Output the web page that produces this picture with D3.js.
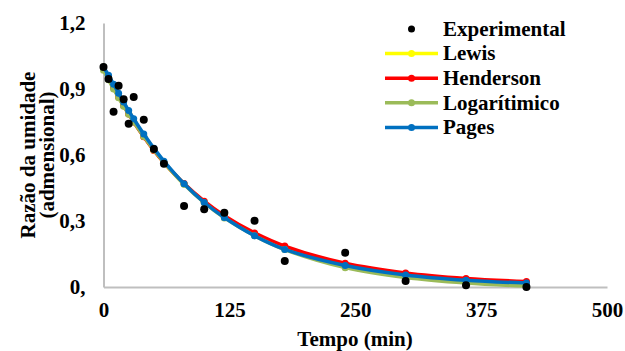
<!DOCTYPE html>
<html>
<head>
<meta charset="utf-8">
<script src="https://cdn.jsdelivr.net/npm/d3@7"></script>
</head>
<body style="margin:0">
<svg id="chart" width="625" height="351" font-family="Liberation Serif" font-weight="bold" font-size="21"></svg>
<script>
/* Chart data */
var tempo        = [0, 5, 10, 15, 20, 25, 30, 40, 50, 60, 80, 100, 120, 150, 180, 240, 300, 360, 420];
var experimental = [1.000, 0.945, 0.797, 0.915, 0.853, 0.742, 0.864, 0.760, 0.627, 0.560, 0.368, 0.353, 0.338, 0.301, 0.118, 0.156, 0.027, 0.008, 0.000];
var lewis        = [1.000, 0.953, 0.909, 0.867, 0.827, 0.789, 0.752, 0.684, 0.622, 0.566, 0.468, 0.387, 0.320, 0.241, 0.181, 0.102, 0.058, 0.033, 0.019];
var henderson    = [0.995, 0.950, 0.906, 0.864, 0.824, 0.786, 0.750, 0.683, 0.621, 0.566, 0.470, 0.390, 0.324, 0.246, 0.186, 0.108, 0.064, 0.039, 0.025];
var logaritmico  = [0.985, 0.942, 0.900, 0.860, 0.822, 0.785, 0.750, 0.684, 0.623, 0.567, 0.467, 0.383, 0.314, 0.233, 0.170, 0.088, 0.043, 0.018, 0.004];
var pages        = [1.000, 0.962, 0.922, 0.881, 0.841, 0.802, 0.765, 0.695, 0.631, 0.572, 0.469, 0.384, 0.316, 0.233, 0.171, 0.098, 0.055, 0.031, 0.018];

var xTicks      = [0, 125, 250, 375, 500];
var yTicks      = [0, 0.3, 0.6, 0.9, 1.2];
var yTickLabels = ["0,", "0,3", "0,6", "0,9", "1,2"];

var seriesNames  = ["Lewis", "Henderson", "Logarítimico", "Pages"];
var seriesValues = [lewis, henderson, logaritmico, pages];
var seriesColors = ["#FFFF00", "#FF0000", "#9BBB59", "#0070C0"];

// Dimensions & Geometry
var plot = {left: 103.5, right: 607, top: 23, bottom: 287};

var svg = d3.select("#chart");

var x = d3.scaleLinear().domain([0, 500]).range([plot.left, plot.right]);
var y = d3.scaleLinear().domain([0, 1.2]).range([plot.bottom, plot.top]);

// Axes
var xAxis = svg.append("g")
    .attr("transform", "translate(0," + plot.bottom + ")")
    .call(d3.axisBottom(x).tickValues(xTicks).tickSize(0).tickPadding(15));

var yAxis = svg.append("g")
    .attr("transform", "translate(" + plot.left + ",0)")
    .call(d3.axisLeft(y).tickValues(yTicks).tickSize(0).tickPadding(18)
        .tickFormat(function (d, i) { return yTickLabels[i]; }));

[xAxis, yAxis].forEach(function (g) {
    // drop the axis' own sans-serif / 10px defaults so the svg settings apply
    g.attr("font-family", null).attr("font-size", null);
    g.select(".domain").attr("stroke", "#BFBFBF").attr("stroke-width", 2);
    g.selectAll("text").attr("fill", "#000");
});

// Axis titles
svg.append("text")
    .attr("x", 355)
    .attr("y", 346)
    .attr("text-anchor", "middle")
    .text("Tempo (min)");

var yTitle = svg.append("text")
    .attr("transform", "translate(35,155) rotate(-90)")
    .attr("text-anchor", "middle");
yTitle.append("tspan").attr("x", 0).attr("y", 0).text("Razão da umidade");
yTitle.append("tspan").attr("x", 0).attr("y", 19).text("(admensional)");

// Model curves
var line = d3.line()
    .x(function (d, i) { return x(tempo[i]); })
    .y(function (d) { return y(d); })
    .curve(d3.curveCatmullRom);

seriesValues.forEach(function (vals, s) {
    svg.append("path")
        .attr("d", line(vals))
        .attr("fill", "none")
        .attr("stroke", seriesColors[s])
        .attr("stroke-width", 3.5);
    svg.append("g").selectAll("circle")
        .data(vals)
        .enter().append("circle")
        .attr("cx", function (d, i) { return x(tempo[i]); })
        .attr("cy", function (d) { return y(d); })
        .attr("r", 3.5)
        .attr("fill", seriesColors[s]);
});

// Experimental points
svg.append("g").selectAll("circle")
    .data(experimental)
    .enter().append("circle")
    .attr("cx", function (d, i) { return x(tempo[i]); })
    .attr("cy", function (d) { return y(d); })
    .attr("r", 4)
    .attr("fill", "#000");

// Legend
var legend = svg.append("g").attr("transform", "translate(385,29)");
var rowH = 24.6;

legend.append("circle").attr("cx", 26.5).attr("cy", 0).attr("r", 3.5).attr("fill", "#000");
legend.append("text").attr("x", 58).attr("y", 0).attr("dy", "0.32em").text("Experimental");

seriesNames.forEach(function (name, i) {
    var row = legend.append("g").attr("transform", "translate(0," + (rowH * (i + 1)) + ")");
    row.append("line")
        .attr("x1", 0).attr("x2", 53)
        .attr("stroke", seriesColors[i])
        .attr("stroke-width", 3.5);
    row.append("circle").attr("cx", 26.5).attr("r", 3.5).attr("fill", seriesColors[i]);
    row.append("text").attr("x", 58).attr("dy", "0.32em").text(name);
});
</script>
</body>
</html>
